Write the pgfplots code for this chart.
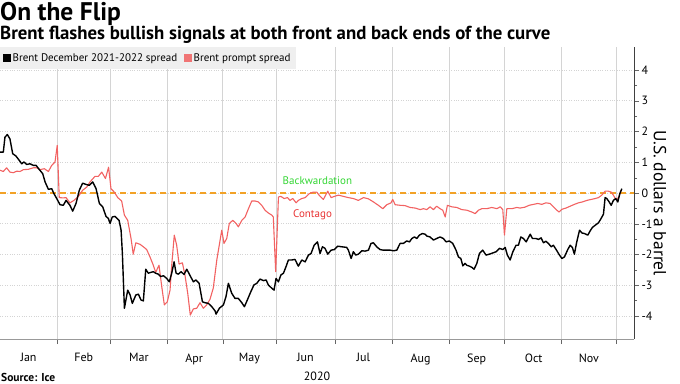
\documentclass[border=0pt]{standalone}
\usepackage{fontspec}
\setmainfont{PT Sans}
\usepackage{pgfplots}
\pgfplotsset{compat=1.18}
\definecolor{redl}{HTML}{F26262}
\definecolor{legred}{HTML}{F07474}
\definecolor{zeroline}{HTML}{F2A227}
\definecolor{backg}{HTML}{33D633}
\definecolor{contr}{HTML}{E83333}
\definecolor{gridc}{HTML}{D4D4D4}
\definecolor{legbg}{HTML}{EFEFEF}
\begin{document}
\begin{tikzpicture}
\useasboundingbox (0pt,0pt) rectangle (680pt,383pt);
\begin{axis}[
  at={(0pt,44pt)}, anchor=south west, scale only axis,
  width=634pt, height=292pt,
  xmin=0, xmax=344.5, ymin=-4.75, ymax=4.75,
  axis x line*=bottom, axis y line*=right,
  x axis line style={black!40}, y axis line style={black!75},
  tick align=outside, tick style={black!60},
  major tick length=5pt, minor tick length=3pt,
  xtick={31,60,91,121,150,182,213,244,274,305,335},
  xticklabels={},
  extra x ticks={15.5,45.5,75.5,105.5,135.5,166,197.5,228.5,259,290,320},
  extra x tick labels={Jan,Feb,Mar,Apr,May,Jun,Jul,Aug,Sep,Oct,Nov},
  extra x tick style={grid=none, tick style={draw=none}},
  xticklabel style={font=\fontsize{12}{12}\selectfont, yshift=-6pt},
  xlabel={2020}, xlabel style={font=\fontsize{12}{12}\selectfont, yshift=5pt},
  ytick={-4,-3,-2,-1,0,1,2,3,4},
  minor y tick num=1,
  yticklabel pos=right,
  yticklabel style={font=\fontsize{12}{12}\selectfont, xshift=-1pt},
  /pgf/number format/assume math mode=true,
  xmajorgrids, ymajorgrids,
  x grid style={gridc, line width=0.6pt},
  y grid style={gridc, dotted, line width=0.7pt},
  legend style={at={(0,1)}, anchor=north west, fill=legbg, draw=none,
    font=\fontsize{11}{11}\selectfont, inner xsep=3pt, inner ysep=4pt,
    /tikz/every even column/.append style={column sep=5pt}},
  legend columns=2,
  legend image code/.code={\fill (0pt,-3.5pt) rectangle (7pt,3.5pt);},
]
\addlegendimage{color=black}
\addlegendentry{Brent December 2021-2022 spread}
\addlegendimage{color=legred}
\addlegendentry{Brent prompt spread}

\addplot[forget plot, draw=zeroline, line width=1.5pt, dash pattern=on 6pt off 4pt] coordinates {(0,0) (344.5,0)};

% Brent prompt spread
\addplot[forget plot, color=redl, line width=1.1pt, line join=round] coordinates {
(0,0.74) (1.8,0.70) (3.6,0.82) (5.4,0.68) (7.2,0.66) (9.1,0.71) (10.9,0.70) (12.7,0.76)
(15.4,0.77) (18.1,0.82) (19.9,0.82) (21.7,0.76) (24.1,0.79) (26.3,0.70) (28.1,0.90) (29.9,1.01)
(31.1,1.55) (32.2,-0.15) (34.4,-0.16) (35.9,-0.15) (38.0,-0.32) (40.2,-0.24) (42.6,-0.11)
(44.9,0.09) (47.1,0.19) (48.9,0.36) (51.6,0.54) (53.4,0.54) (55.3,0.68) (57.3,0.47) (59.0,0.84)
(60.3,0.14) (62.1,0.03) (64.0,-0.15) (66.1,-0.26) (67.6,-0.72) (69.4,-0.89) (71.2,-1.48)
(72.4,-1.99) (73.8,-1.62) (76.1,-1.67) (77.9,-1.75) (79.7,-1.84) (81.5,-2.08) (83.3,-2.35)
(84.6,-2.58) (86.4,-2.35) (87.9,-3.05) (89.3,-3.64) (90.9,-3.54) (92.4,-3.16) (93.3,-2.35)
(94.7,-1.37) (96.0,-1.70) (97.3,-2.31) (99.1,-2.27) (100.5,-2.67) (102.0,-3.26) (103.4,-3.97)
(105.1,-3.77) (106.9,-3.75) (108.7,-3.57) (110.5,-3.75) (112.3,-3.64) (114.1,-3.46) (115.9,-3.09)
(117.8,-2.18) (119.6,-1.53) (120.5,-1.21) (121.7,-1.64) (123.2,-1.48) (124.6,-0.99) (126.5,-0.89)
(128.3,-0.99) (129.5,-1.10) (131.4,-0.89) (133.2,-0.78) (135.0,-0.51) (136.8,-0.26) (138.6,-0.26)
(140.4,-0.29) (142.2,-0.40) (144.0,-0.56) (145.8,-0.65) (147.7,-0.72) (148.5,-0.78) (149.8,-2.56)
(151.3,-0.13) (152.6,-0.11) (154.4,-0.18) (156.2,-0.15) (157.6,-0.24) (159.1,-0.18) (160.9,-0.32)
(162.1,-0.24) (164.0,-0.18) (165.8,-0.15) (168.1,-0.02) (170.3,0.03) (172.1,0.03) (173.4,-0.07)
(175.7,-0.21) (178.1,0.06) (179.9,-0.15) (181.7,-0.11) (183.9,-0.07) (186.6,-0.11) (189.3,-0.15)
(192.0,-0.18) (194.7,-0.24) (197.5,-0.15) (200.2,-0.19) (202.9,-0.29) (205.6,-0.40) (208.0,-0.51)
(210.2,-0.38) (212.5,-0.32) (213.4,-0.21) (214.7,-0.38) (217.4,-0.40) (220.1,-0.41) (222.8,-0.47)
(225.6,-0.49) (228.3,-0.54) (230.1,-0.51) (231.9,-0.54) (233.7,-0.45) (235.5,-0.54) (237.3,-0.43)
(239.1,-0.51) (240.6,-0.56) (241.9,-0.78) (243.1,-0.40) (245.5,-0.45) (248.2,-0.47) (250.9,-0.54)
(253.7,-0.56) (256.4,-0.62) (258.2,-0.67) (260.0,-0.56) (261.8,-0.51) (264.5,-0.51) (267.2,-0.47)
(270.0,-0.51) (271.8,-0.45) (273.2,-0.54) (274.1,-1.37) (275.4,-0.51) (278.1,-0.51) (280.8,-0.47)
(282.6,-0.49) (285.3,-0.46) (287.5,-0.40) (289.9,-0.37) (292.2,-0.34) (294.4,-0.37) (296.6,-0.32)
(298.9,-0.34) (300.7,-0.45) (302.6,-0.56) (303.8,-0.62) (305.3,-0.53) (307.5,-0.49) (309.8,-0.43)
(312.1,-0.37) (314.3,-0.32) (316.5,-0.29) (318.9,-0.24) (321.2,-0.21) (323.4,-0.18) (325.2,-0.15)
(327.0,-0.07) (328.8,0.06) (330.6,0.06) (332.1,0.03) (333.3,-0.07) (334.6,-0.21) (336.1,-0.15)
(337.5,0.09)
};

% Brent December 2021-2022 spread
\addplot[forget plot, color=black, line width=1.4pt, line join=round] coordinates {
(0,1.33) (1.8,1.33) (2.7,1.82) (4.0,1.90) (5.4,1.76) (6.9,1.28) (8.7,1.20) (10.5,1.06)
(11.8,0.95) (13.0,1.01) (14.5,0.93) (16.3,0.95) (18.1,0.90) (19.6,0.90) (21.4,0.76) (23.2,0.63)
(24.5,0.36) (26.3,0.12) (28.1,0.14) (29.3,-0.02) (31.1,-0.21) (32.6,-0.38) (34.4,-0.40) (35.9,-0.24)
(38.0,-0.40) (39.5,-0.59) (41.3,-0.34) (43.1,0.09) (44.9,0.32) (46.7,0.28) (48.5,0.25) (50.4,0.36)
(52.2,0.14) (54.0,-0.34) (55.8,-0.45) (57.6,-0.76) (58.9,-0.83) (59.8,-0.99) (61.0,-0.78) (62.5,-0.76)
(64.7,-0.89) (65.8,-1.21) (66.5,-1.97) (67.6,-3.75) (69.4,-3.16) (70.7,-3.32) (71.9,-3.59) (73.8,-3.32)
(75.2,-3.29) (76.6,-3.48) (77.9,-3.51) (79.2,-2.48) (80.6,-2.61) (82.1,-2.58) (83.3,-2.56) (84.6,-2.61)
(86.0,-2.64) (87.3,-2.72) (88.8,-2.69) (90.6,-2.78) (92.0,-2.89) (93.3,-2.61) (94.6,-2.24) (95.7,-2.61)
(96.9,-2.64) (98.4,-2.56) (100.0,-2.65) (101.5,-2.48) (103.3,-2.69) (105.1,-2.89) (106.4,-2.83)
(108.2,-2.94) (110.0,-3.54) (111.4,-3.57) (113.2,-3.59) (115.1,-3.70) (116.9,-3.84) (117.4,-3.94)
(119.2,-3.75) (121.4,-3.64) (122.8,-3.37) (124.1,-2.94) (125.9,-3.26) (127.7,-3.43) (129.5,-3.43)
(131.4,-3.57) (132.8,-3.70) (134.4,-3.48) (136.3,-3.21) (138.0,-2.99) (139.5,-2.94) (141.3,-2.80)
(143.1,-2.85) (144.6,-2.83) (145.8,-2.99) (147.7,-3.10) (148.9,-3.16) (150.0,-2.78) (151.3,-2.89)
(152.6,-2.67) (154.0,-2.61) (155.4,-2.40) (156.7,-2.18) (158.5,-2.18) (160.3,-2.16) (162.1,-2.38)
(164.0,-2.18) (165.8,-2.24) (167.6,-2.02) (169.0,-1.97) (170.7,-1.70) (172.5,-1.59) (173.9,-1.97)
(175.2,-1.75) (176.6,-1.80) (178.1,-1.99) (179.9,-1.86) (181.7,-1.84) (183.5,-1.73) (185.7,-1.75)
(188.4,-1.77) (189.3,-1.86) (190.8,-2.13) (192.0,-1.91) (193.3,-2.02) (194.7,-1.99) (196.6,-1.88)
(198.4,-1.89) (200.2,-1.86) (201.6,-1.64) (202.9,-1.62) (204.7,-1.75) (206.5,-1.84) (208.3,-1.86)
(210.2,-1.86) (212.0,-1.86) (213.8,-1.88) (215.6,-1.86) (217.4,-1.64) (219.2,-1.64) (221.0,-1.56)
(222.5,-1.59) (223.8,-1.48) (225.2,-1.43) (226.5,-1.48) (227.9,-1.37) (229.5,-1.32) (231.0,-1.34)
(231.9,-1.40) (233.7,-1.43) (235.5,-1.53) (237.3,-1.48) (239.1,-1.43) (240.9,-1.48) (242.4,-1.59)
(244.2,-1.56) (246.0,-1.64) (247.8,-1.86) (249.1,-2.08) (250.4,-2.13) (251.5,-2.37) (252.7,-2.29)
(253.6,-2.35) (255.1,-2.38) (256.4,-2.42) (257.6,-2.48) (259.1,-2.29) (260.5,-1.97) (262.3,-1.86)
(264.1,-2.02) (265.9,-1.99) (267.8,-1.95) (269.6,-1.91) (271.4,-1.80) (273.2,-1.84) (274.5,-1.77)
(275.7,-2.02) (277.2,-2.18) (278.7,-1.91) (280.4,-1.70) (281.7,-1.70) (283.0,-1.43) (284.4,-1.48)
(285.9,-1.59) (288.1,-1.34) (289.3,-1.48) (291.2,-1.48) (292.6,-1.51) (294.0,-1.46) (295.3,-1.62)
(296.6,-1.57) (298.0,-1.64) (299.5,-1.75) (300.7,-1.70) (302.6,-1.88) (303.8,-2.00) (305.3,-2.13)
(306.7,-2.08) (308.5,-1.84) (309.8,-1.70) (311.0,-1.77) (312.1,-1.99) (313.4,-1.59) (314.9,-1.21)
(316.2,-1.30) (317.6,-1.32) (319.4,-1.37) (320.7,-1.23) (321.9,-1.12) (323.4,-1.05) (325.2,-0.97)
(326.6,-0.83) (327.9,-0.69) (328.8,-0.15) (329.7,-0.18) (331.0,-0.29) (332.1,-0.40) (333.3,-0.24)
(334.6,-0.18) (335.7,-0.29) (336.8,-0.02) (337.9,0.14)
};

\node[anchor=west, inner sep=0, text=backg, font=\fontsize{11}{11}\selectfont] at (axis cs:153.5,0.41) {Backwardation};
\node[anchor=west, inner sep=0, text=contr, font=\fontsize{11}{11}\selectfont] at (axis cs:159.2,-0.72) {Contago};
\end{axis}
\node[anchor=base west, inner sep=0, font=\bfseries\fontsize{25.5}{25.5}\selectfont] at (0pt,362pt) {On the Flip};
\node[anchor=base west, inner sep=0, font=\bfseries\fontsize{18.8}{18.8}\selectfont] at (0pt,343pt) {Brent flashes bullish signals at both front and back ends of the curve};
\node[anchor=base west, inner sep=0, font=\bfseries\fontsize{11.5}{11.5}\selectfont] at (1pt,2pt) {Source: Ice};
\node[rotate=-90, inner sep=0, font=\fontsize{17.5}{17.5}\selectfont] at (660pt,180pt) {U.S. dollars a barrel};
\end{tikzpicture}
\end{document}
